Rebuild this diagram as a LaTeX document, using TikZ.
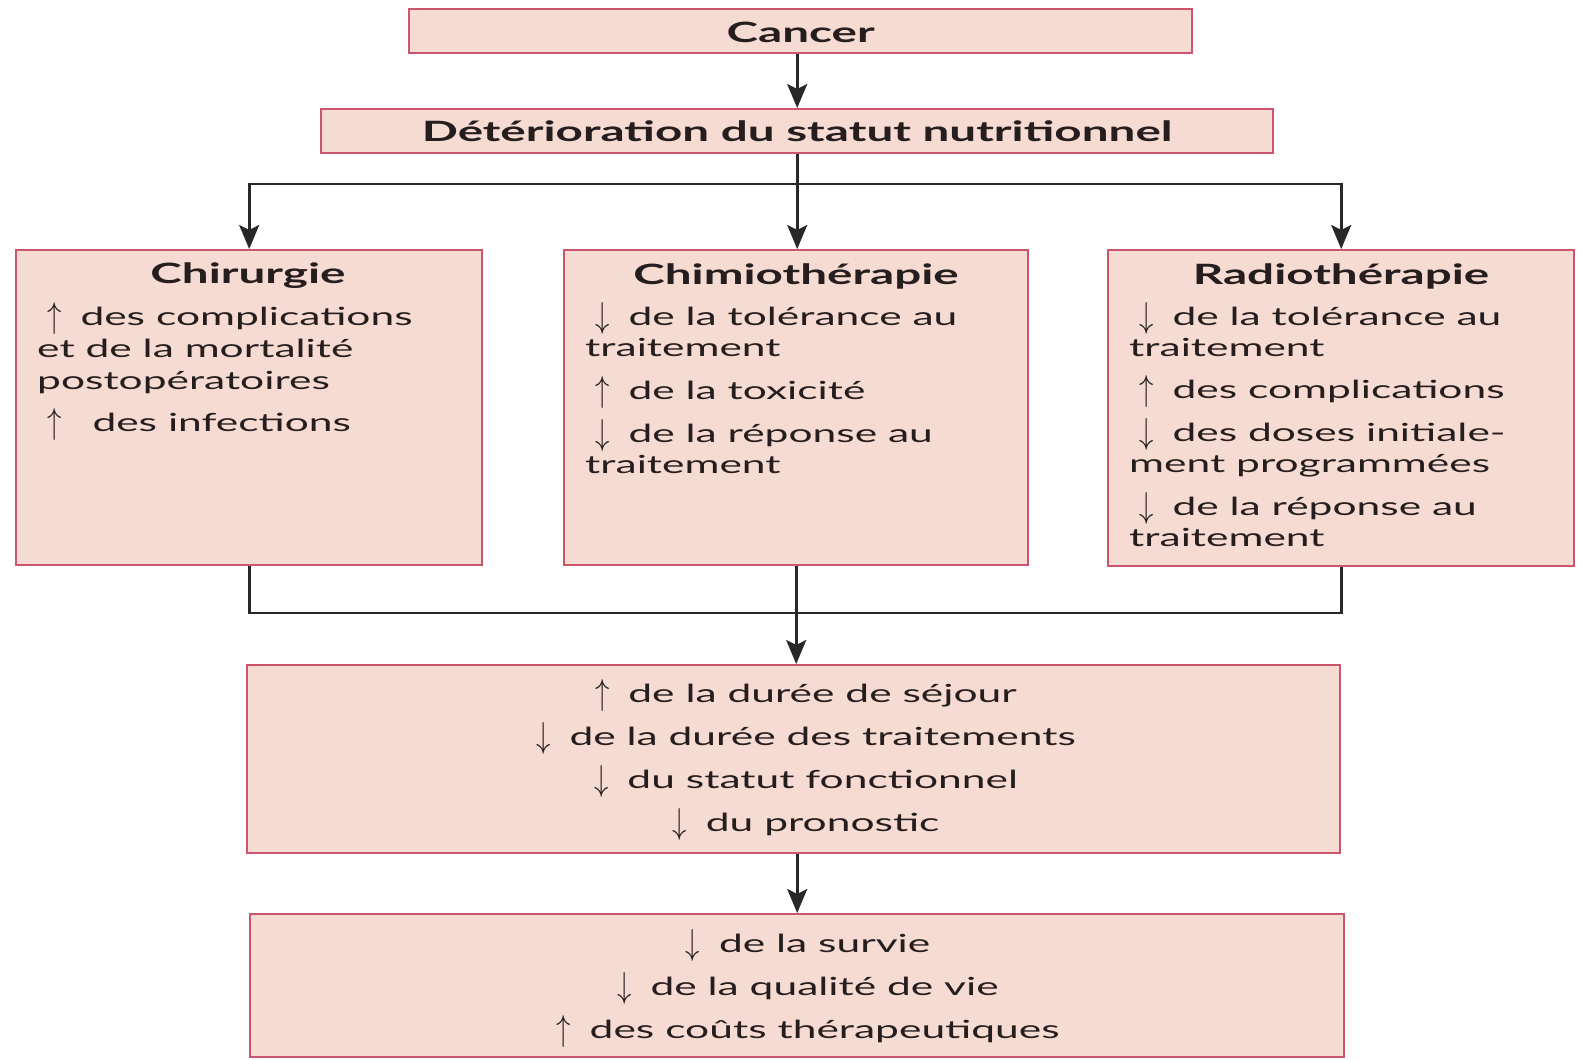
\documentclass[tikz,border=0pt]{standalone}
\usepackage{fontspec}
\setmainfont{Lato}[FakeStretch=1.7]
\usetikzlibrary{arrows.meta}
\definecolor{boxfill}{RGB}{246,219,211}
\definecolor{boxline}{RGB}{205,85,110}
\definecolor{txt}{RGB}{38,30,30}
\definecolor{conn}{RGB}{40,40,40}
\newcommand{\arrU}{\raisebox{-2pt}{\scalebox{1.15}[1.45]{$\uparrow$}}\hspace{19pt}}
\newcommand{\arrD}{\raisebox{-2pt}{\scalebox{1.15}[1.45]{$\downarrow$}}\hspace{19pt}}
\begin{document}
\begin{tikzpicture}[x=1pt,y=-1pt,
  box/.style={draw=boxline, fill=boxfill, line width=2.4pt, inner sep=0pt, anchor=north west, text=txt},
  ttl/.style={font=\fontsize{28}{32}\selectfont\bfseries, text=txt, inner sep=0pt},
  ln/.style={font=\fontsize{25}{30}\selectfont, text=txt, inner sep=0pt, anchor=mid west},
  lc/.style={font=\fontsize{25}{30}\selectfont, text=txt, inner sep=0pt, anchor=mid},
  conn/.style={draw=conn, line width=2.8pt, -{Stealth[length=24pt,width=20pt,inset=5pt]}},
  plain/.style={draw=conn, line width=2.8pt}]
\useasboundingbox[fill=white] (0,0) rectangle (1577,1060);

% boxes
\node[box, minimum width=783pt, minimum height=44pt] (cancer) at (408,8) {};
\node[box, minimum width=952pt, minimum height=44pt] (det) at (320,108) {};
\node[box, minimum width=466pt, minimum height=315pt] (chir) at (15,249) {};
\node[box, minimum width=464pt, minimum height=315pt] (chimio) at (563,249) {};
\node[box, minimum width=466pt, minimum height=316pt] (radio) at (1107,249) {};
\node[box, minimum width=1093pt, minimum height=188pt] (mid) at (246,664) {};
\node[box, minimum width=1094pt, minimum height=143pt] (bot) at (249,913) {};

% titles
\node[ttl] (tcancer) at ([yshift=-1pt]cancer.center) {Cancer};
\node[ttl] (tdet) at (det.center) {Détérioration du statut nutritionnel};
\node[ttl] (tchir) at (248,276) {Chirurgie};
\node[ttl] (tchimio) at (796,276) {Chimiothérapie};
\node[ttl] (tradio) at (1341,276) {Radiothérapie};

% Chirurgie
\node[ln] (c1) at (47,323) {\arrU des complications};
\node[ln] (c2) at (37,355) {et de la mortalité};
\node[ln] (c3) at (37,387) {postopératoires};
\node[ln] (c4) at (47,429) {\arrU\hspace{12pt}des infections};

% Chimiothérapie
\node[ln] (h1) at (595,323) {\arrD de la tolérance au};
\node[ln] (h2) at (585,354) {traitement};
\node[ln] (h3) at (595,397) {\arrU de la toxicité};
\node[ln] (h4) at (595,440) {\arrD de la réponse au};
\node[ln] (h5) at (585,471) {traitement};

% Radiothérapie
\node[ln] (r1) at (1139,323) {\arrD de la tolérance au};
\node[ln] (r2) at (1129,354) {traitement};
\node[ln] (r3) at (1139,396) {\arrU des complications};
\node[ln] (r4) at (1139,439) {\arrD des doses initiale-};
\node[ln] (r5) at (1129,470) {ment programmées};
\node[ln] (r6) at (1139,513) {\arrD de la réponse au};
\node[ln] (r7) at (1129,544) {traitement};

% middle
\node[lc] (m1) at (806,700) {\arrU de la durée de séjour};
\node[lc] (m2) at (806,743) {\arrD de la durée des traitements};
\node[lc] (m3) at (806,786) {\arrD du statut fonctionnel};
\node[lc] (m4) at (806,829) {\arrD du pronostic};

% bottom
\node[lc] (b1) at (808,950) {\arrD de la survie};
\node[lc] (b2) at (808,993) {\arrD de la qualité de vie};
\node[lc] (b3) at (808,1036) {\arrU des coûts thérapeutiques};

% connectors
\coordinate (jtop) at (795,184);
\coordinate (jbot) at (795,613);
\draw[conn] (cancer.south -| det.north) -- (det.north);
\draw[conn] (det.south) -- (det.south |- chimio.north);
\draw[conn] (jtop) -| (chir.north);
\draw[conn] (jtop) -| (radio.north);
\draw[plain] (chir.south) |- (jbot);
\draw[plain] (radio.south) |- (jbot);
\draw[conn] (chimio.south) -- (chimio.south |- mid.north);
\draw[conn] (mid.south -| bot.north) -- (bot.north);
\end{tikzpicture}
\end{document}
